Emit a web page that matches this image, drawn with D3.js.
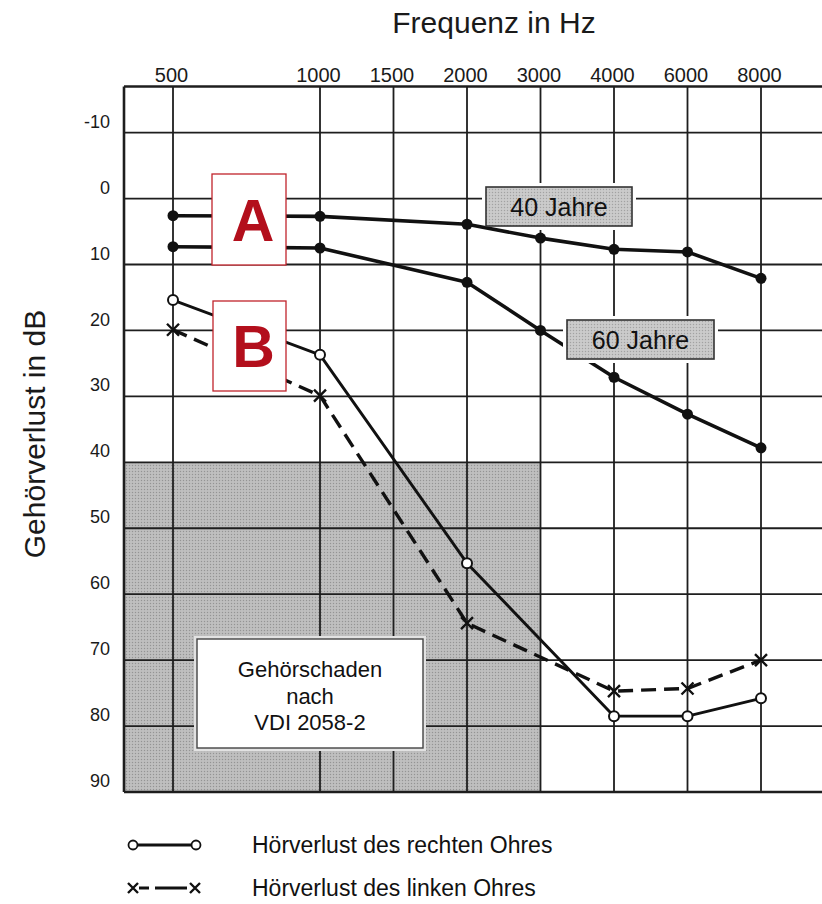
<!DOCTYPE html>
<html>
<head>
<meta charset="utf-8">
<script src="https://cdn.jsdelivr.net/npm/d3@7"></script>
<style>
  html, body { margin: 0; padding: 0; background: #fff; }
  svg { display: block; }
  text { font-family: "Liberation Sans", Arial, sans-serif; fill: #1a1a1a; }
</style>
</head>
<body>
<svg id="chart" width="822" height="904"></svg>
<script>
// ---------- data ----------
const freqTicks = [500, 1000, 1500, 2000, 3000, 4000, 6000, 8000];
const octaveFreqs = [500, 1000, 2000, 4000, 8000];
const dbTicks = [-10, 0, 10, 20, 30, 40, 50, 60, 70, 80, 90];

const ageFreqs = [500, 1000, 2000, 3000, 4000, 6000, 8000];
const age40 = [2.6, 2.7, 3.9, 6.0, 7.7, 8.1, 12.1];
const age60 = [7.3, 7.5, 12.7, 20.0, 27.1, 32.7, 37.8];

const earFreqs = [500, 1000, 2000, 4000, 6000, 8000];
const rightEar = [15.4, 23.7, 55.3, 78.5, 78.5, 75.8];
const leftEar = [19.9, 29.9, 64.4, 74.7, 74.3, 70.0];

const damageZone = { fromDb: 40, toDb: 90, toFreq: 3000 };

// ---------- scales ----------
const svg = d3.select("#chart");
const W = 822;
const oct = d3.scaleLinear().domain([0, 4]).range([173, 761]);
const x = d3.scaleLinear().domain(octaveFreqs).range(octaveFreqs.map((f, i) => oct(i)));
const y = d3.scaleLinear().domain([-10, 90]).range([132.6, 792]);
const plotLeft = oct(-1 / 3);
const plotTop = y(-17);
const plotBottom = y(90);

// ---------- patterns ----------
const defs = svg.append("defs");
function makePattern(id, base, dark, light) {
  const p = defs.append("pattern").attr("id", id).attr("width", 3).attr("height", 3)
    .attr("patternUnits", "userSpaceOnUse");
  p.append("rect").attr("width", 3).attr("height", 3).attr("fill", base);
  p.append("rect").attr("x", 0).attr("y", 0).attr("width", 1).attr("height", 1).attr("fill", dark);
  p.append("rect").attr("x", 1.5).attr("y", 1.5).attr("width", 1).attr("height", 1).attr("fill", light);
}
makePattern("zone", "#bababa", "#949494", "#d0d0d0");
makePattern("tag", "#c6c6c6", "#a2a2a2", "#dadada");

svg.append("rect")
  .attr("x", plotLeft).attr("y", y(damageZone.fromDb))
  .attr("width", x(damageZone.toFreq) - plotLeft)
  .attr("height", y(damageZone.toDb) - y(damageZone.fromDb))
  .attr("fill", "url(#zone)");

// ---------- grid ----------
const grid = svg.append("g").attr("stroke", "#1e1e1e").attr("fill", "none");
grid.selectAll("line.h").data(dbTicks.filter(d => d < 90)).join("line")
  .attr("class", "h")
  .attr("x1", plotLeft).attr("x2", W).attr("y1", d => y(d)).attr("y2", d => y(d))
  .attr("stroke-width", 1.8);
grid.selectAll("line.v").data(freqTicks).join("line")
  .attr("class", "v")
  .attr("x1", d => x(d)).attr("x2", d => x(d)).attr("y1", plotTop).attr("y2", plotBottom)
  .attr("stroke-width", 1.8);
// frame
grid.append("line").attr("x1", plotLeft).attr("x2", W).attr("y1", plotTop).attr("y2", plotTop).attr("stroke-width", 2.6);
grid.append("line").attr("x1", plotLeft).attr("x2", W).attr("y1", plotBottom).attr("y2", plotBottom).attr("stroke-width", 2.6);
grid.append("line").attr("x1", plotLeft).attr("x2", plotLeft).attr("y1", plotTop).attr("y2", plotBottom).attr("stroke-width", 2.6);

// ---------- axes ----------
const topAxis = svg.append("g").attr("transform", `translate(0,${plotTop - 4})`)
  .call(d3.axisTop(x).tickValues(freqTicks).tickSize(0).tickPadding(0).tickFormat(d => String(d)));
topAxis.select(".domain").remove();
topAxis.selectAll("text").attr("font-size", 20).attr("fill", "#1a1a1a")
  .attr("font-family", "'Liberation Sans', Arial, sans-serif").attr("dx", -2);

const leftAxis = svg.append("g").attr("transform", `translate(110,0)`)
  .call(d3.axisLeft(y).tickValues(dbTicks).tickSize(0).tickPadding(0).tickFormat(d => String(d)));
leftAxis.select(".domain").remove();
leftAxis.selectAll("text").attr("font-size", 18).attr("fill", "#1a1a1a")
  .attr("font-family", "'Liberation Sans', Arial, sans-serif")
  .attr("dy", "-0.3em");

svg.append("text").attr("x", 494).attr("y", 33).attr("text-anchor", "middle")
  .attr("font-size", 30).text("Frequenz in Hz");
svg.append("text").attr("transform", "translate(45,434) rotate(-90)").attr("text-anchor", "middle")
  .attr("font-size", 30).text("Gehörverlust in dB");

// ---------- annotation boxes ----------
function halo(x0, y0, w, h) {
  svg.append("rect").attr("x", x0 - 4).attr("y", y0 - 4).attr("width", w + 8).attr("height", h + 8).attr("fill", "#fff");
}
function grayBox(x0, y0, w, h, label) {
  svg.append("rect").attr("x", x0).attr("y", y0).attr("width", w).attr("height", h)
    .attr("fill", "url(#tag)").attr("stroke", "#333").attr("stroke-width", 1.6);
  svg.append("text").attr("x", x0 + w / 2).attr("y", y0 + h / 2 + 9).attr("text-anchor", "middle")
    .attr("font-size", 25).style("fill", "#111").text(label);
}
// 40 Jahre halo only interrupts the grid
halo(486, 187, 146, 39);

// ---------- series ----------
const mk = (fs, vs) => fs.map((f, i) => [x(f), y(vs[i])]);
const line = d3.line();

[age40, age60].forEach(vals => {
  const pts = mk(ageFreqs, vals);
  svg.append("path").attr("d", line(pts)).attr("fill", "none").attr("stroke", "#111")
    .attr("stroke-width", 3.6).attr("stroke-linejoin", "round");
  svg.selectAll(null).data(pts).join("circle")
    .attr("cx", d => d[0]).attr("cy", d => d[1]).attr("r", 5.5).attr("fill", "#111");
});

const rPts = mk(earFreqs, rightEar);
svg.append("path").attr("d", line(rPts)).attr("fill", "none").attr("stroke", "#111")
  .attr("stroke-width", 2.9).attr("stroke-linejoin", "round");

const lPts = mk(earFreqs, leftEar);
svg.append("path").attr("d", line(lPts)).attr("fill", "none").attr("stroke", "#111")
  .attr("stroke-width", 3.4).attr("stroke-dasharray", "15,8");

function drawX(g, cx, cy, s) {
  g.append("path").attr("d", `M${cx - s},${cy - s}L${cx + s},${cy + s}M${cx - s},${cy + s}L${cx + s},${cy - s}`)
    .attr("stroke", "#111").attr("stroke-width", 2.4).attr("fill", "none");
}
lPts.forEach(p => drawX(svg, p[0], p[1], 6));
svg.selectAll(null).data(rPts).join("circle")
  .attr("cx", d => d[0]).attr("cy", d => d[1]).attr("r", 5)
  .attr("fill", "#fff").attr("stroke", "#111").attr("stroke-width", 2);

grayBox(486, 187, 146, 39, "40 Jahre");
halo(567, 320, 147, 39);
grayBox(567, 320, 147, 39, "60 Jahre");

// damage zone label
svg.append("rect").attr("x", 194).attr("y", 636).attr("width", 232).attr("height", 115).attr("fill", "#e2e2e2");
svg.append("rect").attr("x", 197).attr("y", 639).attr("width", 226).attr("height", 109)
  .attr("fill", "#fff").attr("stroke", "#444").attr("stroke-width", 1.4);
["Gehörschaden", "nach", "VDI 2058-2"].forEach((t, i) => {
  svg.append("text").attr("x", 310).attr("y", 677 + i * 26.5).attr("text-anchor", "middle")
    .attr("font-size", 22).style("fill", "#111").text(t);
});

// red letter boxes
function letterBox(x0, y0, w, h, t) {
  svg.append("rect").attr("x", x0).attr("y", y0).attr("width", w).attr("height", h)
    .attr("fill", "#fff").attr("stroke", "#c0242c").attr("stroke-width", 1.3);
  svg.append("text").attr("x", x0 + w / 2 + 4).attr("y", y0 + h / 2 + 21).attr("text-anchor", "middle")
    .attr("font-size", 59).attr("font-weight", "bold").style("fill", "#b30f1c").text(t);
}
letterBox(212, 174, 74, 91, "A");
letterBox(213, 301, 73, 90, "B");

// ---------- legend ----------
const lg = svg.append("g");
lg.append("line").attr("x1", 133).attr("x2", 196).attr("y1", 845).attr("y2", 845)
  .attr("stroke", "#111").attr("stroke-width", 2.8);
[133, 196].forEach(cx => lg.append("circle").attr("cx", cx).attr("cy", 845).attr("r", 4.5)
  .attr("fill", "#fff").attr("stroke", "#111").attr("stroke-width", 1.8));
lg.append("text").attr("x", 252).attr("y", 853).attr("font-size", 23).style("fill", "#111").text("Hörverlust des rechten Ohres");

lg.append("line").attr("x1", 139).attr("x2", 190).attr("y1", 888).attr("y2", 888)
  .attr("stroke", "#111").attr("stroke-width", 3).attr("stroke-dasharray", "10,6,22,0");
drawX(lg, 133, 888, 5);
drawX(lg, 195, 888, 5);
lg.append("text").attr("x", 252).attr("y", 896).attr("font-size", 23).style("fill", "#111").text("Hörverlust des linken Ohres");
</script>
</body>
</html>
